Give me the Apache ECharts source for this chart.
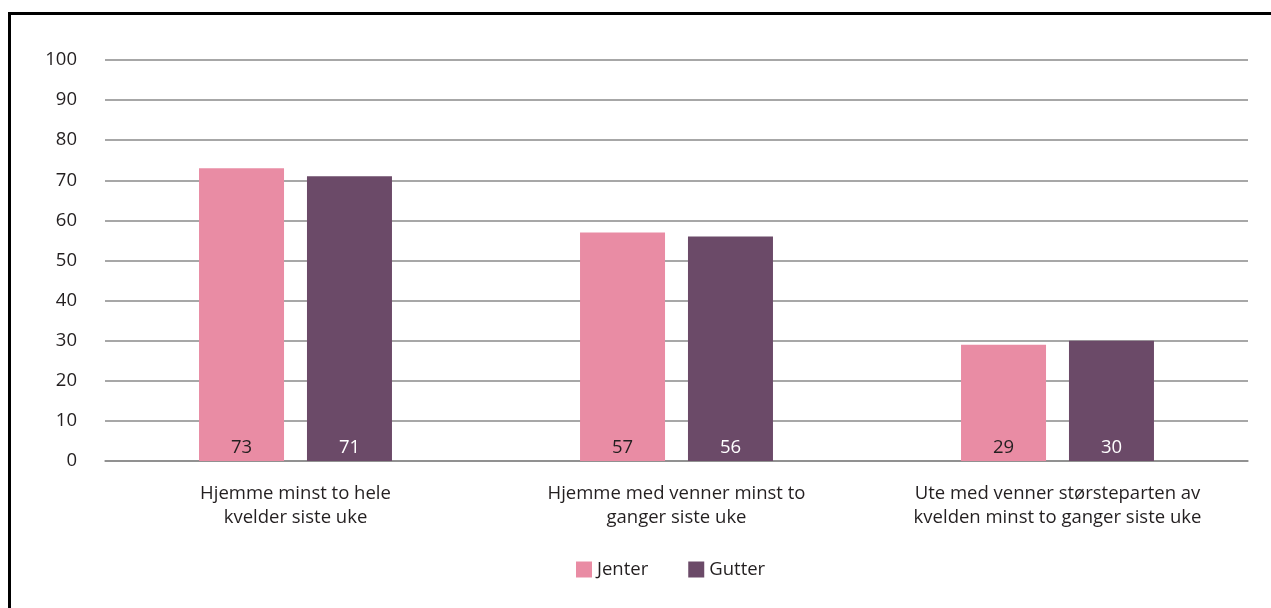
<!DOCTYPE html>
<html><head><meta charset="utf-8">
<script src="https://cdn.jsdelivr.net/npm/echarts@6/dist/echarts.min.js"></script>
<style>
html,body{margin:0;padding:0;background:#fff;}
#c{width:1271px;height:608px;}
</style></head>
<body><div id="c"></div>
<script>
const categories = ["Hjemme minst to hele\nkvelder siste uke", "Hjemme med venner minst to\nganger siste uke", "Ute med venner størsteparten av\nkvelden minst to ganger siste uke"];
const jenter = [73, 57, 29];
const gutter = [71, 56, 30];
const seriesNames = ["Jenter", "Gutter"];

const font = "'Open Sans', 'Noto Sans', sans-serif";
const chart = echarts.init(document.getElementById('c'), null, {renderer:'canvas'});
chart.setOption({
  animation:false,
  textStyle:{fontFamily:font},
  graphic:[{type:'rect', shape:{x:9.5, y:13.5, width:1300, height:700}, style:{fill:'none', stroke:'#000', lineWidth:3}, silent:true}],
  grid:{left:105, right:23, top:60, bottom:147, containLabel:false},
  legend:{
    data:seriesNames, top:555, left:571, itemWidth:16, itemHeight:16, itemGap:40,
    icon:'rect', textStyle:{fontSize:18.5, color:'#231f20', fontFamily:font}
  },
  xAxis:{
    type:'category', data:categories,
    axisLine:{show:true, lineStyle:{color:'#8a8a8a', width:1.5}},
    axisTick:{show:false},
    axisLabel:{fontSize:18.5, color:'#231f20', lineHeight:24, margin:21, interval:0, fontFamily:font}
  },
  yAxis:{
    type:'value', min:0, max:100, interval:10,
    axisLine:{show:false}, axisTick:{show:false},
    splitLine:{lineStyle:{color:'#8a8a8a', width:1.5}},
    axisLabel:{fontSize:18.5, color:'#231f20', margin:28, fontFamily:font}
  },
  series:[
    {name:seriesNames[0], type:'bar', data:jenter, barWidth:85, barGap:'27%',
     itemStyle:{color:'#e98ca4'},
     label:{show:true, position:'insideBottom', distance:4, fontSize:18.5, color:'#231f20', fontFamily:font}},
    {name:seriesNames[1], type:'bar', data:gutter, barWidth:85,
     itemStyle:{color:'#6b4a68'},
     label:{show:true, position:'insideBottom', distance:4, fontSize:18.5, color:'#ffffff', fontFamily:font}}
  ]
});
</script></body></html>
